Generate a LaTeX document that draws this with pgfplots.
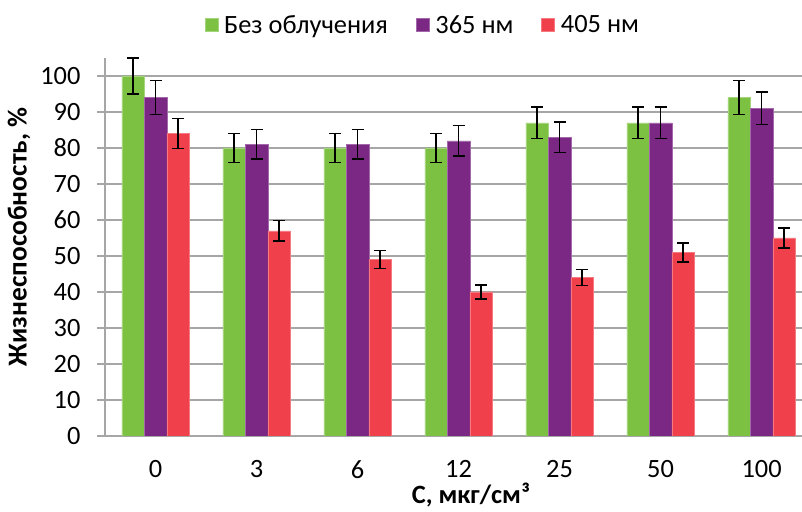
\documentclass[border=0pt]{standalone}
\usepackage{fontspec}
\setmainfont{Carlito}
\usepackage{pgfplots}
\pgfplotsset{compat=1.18}
\definecolor{cg}{RGB}{125,193,66}
\definecolor{cp}{RGB}{123,40,133}
\definecolor{cr}{RGB}{239,64,75}
\definecolor{gridgray}{RGB}{166,166,166}
\begin{document}
\begin{tikzpicture}
\useasboundingbox (0,0) rectangle (802bp,512bp);
\begin{axis}[
  at={(105bp,76bp)}, anchor=south west,
  scale only axis, width=697bp, height=378bp,
  xmin=-0.5, xmax=6.4, ymin=0, ymax=105,
  ybar=0pt, bar width=22.5bp,
  axis x line=bottom, axis y line=left,
  axis line style={-, gridgray, line width=1.2bp},
  xtick={0,...,6}, xticklabels={0,3,6,12,25,50,100},
  xtick style={draw=none},
  minor xtick={-0.5,0.5,...,5.5}, minor tick length=7bp,
  minor x tick style={gridgray, line width=1.2bp},
  ytick={0,10,...,100}, major tick length=8bp,
  ytick style={gridgray, line width=1.2bp},
  tick align=outside,
  ymajorgrids, grid style={gridgray, line width=1.2bp},
  /pgf/number format/assume math mode=true,
  tick label style={font=\fontsize{26.5}{30}\selectfont, black},
  xticklabel style={yshift=-13bp},
  yticklabel style={xshift=-13bp},
  xlabel={\textbf{C, мкг/см³}},
  ylabel={\textbf{Жизнеспособность, \%}},
  xlabel style={font=\fontsize{26.5}{30}\selectfont, at={(axis description cs:0.525,-0.156)}, anchor=center},
  ylabel style={font=\fontsize{27.5}{31}\selectfont, at={(axis description cs:-0.1234,0.527)}, anchor=center},
  legend style={at={(axis description cs:0.456,1.087)}, anchor=center, draw=none,
    font=\fontsize{26.5}{30}\selectfont, legend columns=-1,
    /tikz/every even column/.append style={column sep=26bp},
    /tikz/every odd column/.append style={column sep=4bp}},
  legend image code/.code={\fill[#1] (0bp,-6.5bp) rectangle (13bp,6.5bp);},
  error bars/y dir=both, error bars/y explicit,
  error bars/error bar style={black, line width=1.5bp},
  error bars/error mark options={black, draw=black, line width=1.5bp, mark size=6bp, rotate=90},
]
\addplot[fill=cg, draw=cg!70!white, line width=0.5bp] coordinates {
 (0,100) +- (0,5) (1,80) +- (0,4) (2,80) +- (0,4) (3,80) +- (0,4)
 (4,87) +- (0,4.4) (5,87) +- (0,4.4) (6,94) +- (0,4.7)};
\addplot[fill=cp, draw=cp!70!white, line width=0.5bp] coordinates {
 (0,94) +- (0,4.7) (1,81) +- (0,4.1) (2,81) +- (0,4.1) (3,82) +- (0,4.2)
 (4,83) +- (0,4.2) (5,87) +- (0,4.4) (6,91) +- (0,4.5)};
\addplot[fill=cr, draw=cr!70!white, line width=0.5bp] coordinates {
 (0,84) +- (0,4.2) (1,57) +- (0,2.9) (2,49) +- (0,2.5) (3,40) +- (0,2)
 (4,44) +- (0,2.2) (5,51) +- (0,2.6) (6,55) +- (0,2.8)};
\legend{Без облучения, 365 нм, 405 нм}
\end{axis}
\end{tikzpicture}
\end{document}
